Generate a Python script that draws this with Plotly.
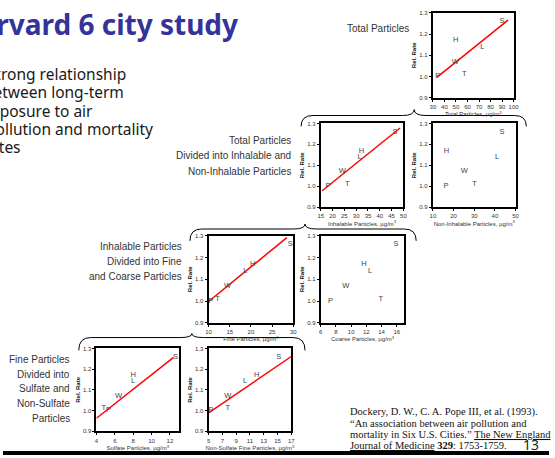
import plotly.graph_objects as go

W, H = 555, 458

# ---------------- data ----------------
cities = ["P", "T", "W", "H", "L", "S"]
rate_ratio = [1.00, 1.01, 1.07, 1.17, 1.14, 1.26]

total_particles = [34.2, 57.2, 49.5, 49.8, 72.8, 90.0]
inhalable_particles = [18.1, 26.2, 24.1, 32.2, 31.4, 46.4]
non_inhalable_particles = [16.3, 30.2, 25.2, 16.6, 41.1, 43.5]
fine_particles = [10.5, 12.1, 14.5, 20.4, 18.7, 29.3]
coarse_particles = [7.3, 13.9, 9.3, 11.7, 12.5, 15.9]
sulfate_particles = [5.3, 4.8, 6.4, 8.0, 8.0, 12.6]
non_sulfate_fine = [5.3, 7.8, 7.8, 12.0, 10.3, 15.2]

total_fit_x = [33.4, 95.2]
total_fit_y = [0.996, 1.266]
inhalable_fit_x = [15.6, 48.6]
inhalable_fit_y = [0.979, 1.278]
fine_fit_x = [10.0, 28.5]
fine_fit_y = [0.998, 1.292]
sulfate_fit_x = [4.0, 12.4]
sulfate_fit_y = [0.963, 1.257]
non_sulfate_fit_x = [5.0, 17.0]
non_sulfate_fit_y = [0.989, 1.261]

y_range = [0.9, 1.3]
y_title = "Rel. Rate"

x_titles = [
    "Total Particles, µg/m<sup>3</sup>",
    "Inhalable Particles, µg/m<sup>3</sup>",
    "Non-Inhalable Particles, µg/m<sup>3</sup>",
    "Fine Particles, µg/m<sup>3</sup>",
    "Coarse Particles, µg/m<sup>3</sup>",
    "Sulfate Particles, µg/m<sup>3</sup>",
    "Non-Sulfate Fine Particles, µg/m<sup>3</sup>",
]

title_text = "Harvard 6 city study"
bullet_lines = ["• Strong relationship", "between long-term", "exposure to air",
                "pollution and mortality", "rates"]
label_groups = [
    ["Total Particles"],
    ["Total Particles", "Divided into Inhalable and", "Non-Inhalable Particles"],
    ["Inhalable Particles", "Divided into Fine", "and Coarse Particles"],
    ["Fine Particles", "Divided into", "Sulfate and", "Non-Sulfate", "Particles"],
]
citation_lines = [
    "Dockery, D. W., C. A. Pope III, et al. (1993).",
    "“An association between air pollution and",
    "mortality in Six U.S. Cities.” <span style='text-decoration:underline'>The New England</span>",
    "<span style='text-decoration:underline'>Journal of Medicine</span> <b>329</b>: 1753-1759.",
]
page_number = "13"


def fx(px):
    return px / W


def fy(py):
    return 1 - py / H


# panel specs: data + box in pixels (left, right, top, bottom)
panels = [
    dict(x=total_particles, fx_=total_fit_x, fy_=total_fit_y, xr=[30, 100], t0=30, dt=10,
         box=(437, 519, 10, 96)),
    dict(x=inhalable_particles, fx_=inhalable_fit_x, fy_=inhalable_fit_y, xr=[15, 50], t0=15, dt=5,
         box=(323, 407, 122, 207)),
    dict(x=non_inhalable_particles, fx_=None, fy_=None, xr=[10, 50], t0=10, dt=10,
         box=(437, 521, 122, 207)),
    dict(x=fine_particles, fx_=fine_fit_x, fy_=fine_fit_y, xr=[10, 30], t0=10, dt=5,
         box=(209, 295, 236, 324)),
    dict(x=coarse_particles, fx_=None, fy_=None, xr=[6, 17], t0=6, dt=2,
         box=(323, 408, 236, 324)),
    dict(x=sulfate_particles, fx_=sulfate_fit_x, fy_=sulfate_fit_y, xr=[4, 13], t0=4, dt=2,
         box=(95, 179, 350, 434)),
    dict(x=non_sulfate_fine, fx_=non_sulfate_fit_x, fy_=non_sulfate_fit_y, xr=[5, 17], t0=5, dt=2,
         box=(209, 293, 350, 434)),
]

fig = go.Figure()
layout = {}
AX_FONT = "Liberation Sans, Arial, sans-serif"

for i, p in enumerate(panels):
    n = "" if i == 0 else str(i + 1)
    xa, ya = "x" + n, "y" + n
    l, r, t, b = p["box"]
    if p["fx_"] is not None:
        fig.add_trace(go.Scatter(x=p["fx_"], y=p["fy_"], mode="lines", xaxis=xa, yaxis=ya,
                                 line=dict(color="#ff0000", width=1.5), showlegend=False,
                                 hoverinfo="skip"))
    fig.add_trace(go.Scatter(x=p["x"], y=rate_ratio, mode="text", text=cities, xaxis=xa, yaxis=ya,
                             textposition="middle center",
                             textfont=dict(size=7.5, color="#444444", family=AX_FONT),
                             showlegend=False, cliponaxis=False))
    layout["xaxis" + n] = dict(
        domain=[fx(l), fx(r)], anchor=ya, range=p["xr"], tickmode="linear", tick0=p["t0"], dtick=p["dt"],
        showline=True, mirror=True, linecolor="black", linewidth=2, ticks="outside", ticklen=2,
        tickwidth=1, tickcolor="black", tickfont=dict(size=6, color="#333333", family=AX_FONT),
        showgrid=False, zeroline=False, fixedrange=True,
        title=dict(text=x_titles[i], font=dict(size=6, color="#333333", family=AX_FONT), standoff=1),
    )
    layout["yaxis" + n] = dict(
        domain=[fy(b), fy(t)], anchor=xa, range=y_range, tickmode="linear", tick0=0.9, dtick=0.1,
        tickformat=".1f", showline=True, mirror=True, linecolor="black", linewidth=2,
        ticks="outside", ticklen=2, tickwidth=1, tickcolor="black",
        tickfont=dict(size=6, color="#333333", family=AX_FONT),
        showgrid=False, zeroline=False, fixedrange=True,
        title=dict(text="<b>" + y_title + "</b>", font=dict(size=6, color="#111111", family=AX_FONT),
                   standoff=2),
    )

annotations = []


def ann(text, x, y, xanchor="left", size=10, family=AX_FONT, color="#333333"):
    annotations.append(dict(text=text, x=fx(x), y=fy(y), xref="paper", yref="paper",
                            xanchor=xanchor, yanchor="middle", showarrow=False,
                            font=dict(size=size, family=family, color=color), borderpad=0))


# title (left part clipped by the slide edge)
ann("<b>" + title_text + "</b>", 240, 21, xanchor="right", size=28,
    family="Noto Sans, Open Sans, sans-serif", color="#333399")

# bullet text, lines right-aligned to where they end
bullet_right = [126, 124, 93, 153, 19]
bullet_y = [72, 90.5, 109, 127.5, 146]
for txt, rx, yy in zip(bullet_lines, bullet_right, bullet_y):
    ann(txt, rx, yy, xanchor="right", size=15.5, family="Noto Sans, Open Sans, sans-serif",
        color="#1a1a1a")

# group labels
group_right = [414, 294, 183, 69]
group_y0 = [26, 139, 247, 361]
group_dy = [0, 16, 15, 15]
for lines, rx, y0, dy in zip(label_groups, group_right, group_y0, group_dy):
    for k, txt in enumerate(lines):
        ann(txt, rx, y0 + k * dy, xanchor="right", size=10, color="#333333")

# citation
cit_y = [414.5, 426.5, 437.5, 448]
for txt, yy in zip(citation_lines, cit_y):
    ann(txt, 352, yy, xanchor="left", size=10.5, family="Liberation Serif, Times New Roman, serif",
        color="#111111")

ann(page_number, 546, 447, xanchor="right", size=14, family="Noto Sans, sans-serif", color="#222222")


# braces
def brace(xl, xc, xr, ytop, yend, ycusp, rr=12):
    pts = [
        ("M", [(xl, yend)]),
        ("Q", [(xl, ytop), (xl + rr, ytop)]),
        ("L", [(xc - rr, ytop)]),
        ("Q", [(xc, ytop), (xc, ycusp)]),
        ("Q", [(xc, ytop), (xc + rr, ytop)]),
        ("L", [(xr - rr, ytop)]),
        ("Q", [(xr, ytop), (xr, yend)]),
    ]
    s = ""
    for cmd, coords in pts:
        s += cmd + " " + " ".join(f"{fx(a):.5f},{fy(c):.5f}" for a, c in coords) + " "
    return dict(type="path", path=s.strip(), xref="paper", yref="paper",
                line=dict(color="black", width=1))


shapes = [
    brace(303, 418, 532, 114, 125, 108),
    brace(190, 307, 420, 229, 241, 224),
    brace(77, 192, 307, 339, 352, 335),
    dict(type="rect", xref="paper", yref="paper", x0=0, x1=1, y0=fy(458), y1=fy(454),
         fillcolor="black", line=dict(width=0)),
]

fig.update_layout(
    width=W, height=H, margin=dict(l=0, r=0, t=0, b=0),
    paper_bgcolor="white", plot_bgcolor="white",
    annotations=annotations, shapes=shapes, showlegend=False,
    **layout,
)

fig.write_html("out.html", config={"displayModeBar": False},
               post_script="document.body.style.margin='0';document.body.style.overflow='hidden';")
